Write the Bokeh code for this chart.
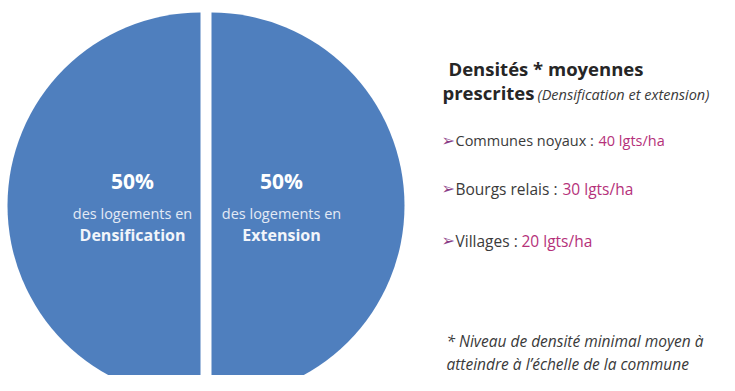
import numpy as np
from bokeh.plotting import figure
from bokeh.models import Range1d, ColumnDataSource
from bokeh.core.properties import value
from bokeh.embed import file_html
from bokeh.resources import INLINE

# ---- data ----
categories = ["Densification", "Extension"]
shares = [50, 50]
share_caption = "des logements en"
title_line1 = "Densités * moyennes"
title_line2 = "prescrites"
title_note = "(Densification et extension)"
density_types = ["Communes noyaux", "Bourgs relais", "Villages"]
density_values = [40, 30, 20]
density_unit = "lgts/ha"
footnote = ["* Niveau de densité minimal moyen à", "atteindre à l’échelle de la commune"]

W, H = 719, 375
FONT = "Open Sans"
BLUE = "#4F7FBE"
DARK = "#262626"
GREY = "#3a3a3a"
MAG = "#b5317a"

def px(x):
    return x

def py(y):
    return H - y

p = figure(width=W, height=H, output_backend="svg", toolbar_location=None,
           x_range=Range1d(0, W), y_range=Range1d(0, H), min_border=0)
p.axis.visible = False
p.grid.visible = False
p.outline_line_color = None
p.background_fill_color = "white"
p.border_fill_color = "white"

# pie wedges (angles from shares; left half = first category)
frac = np.array(shares, dtype=float) / sum(shares)
ends = np.pi / 2 + np.cumsum(frac) * 2 * np.pi
starts = ends - frac * 2 * np.pi
cx = [px(200), px(211)]  # exploded slices
src = ColumnDataSource(dict(x=cx, y=[py(205)] * 2, start=starts, end=ends))
p.wedge(x="x", y="y", radius=193, radius_units="screen", start_angle="start",
        end_angle="end", fill_color=BLUE, line_color=None, source=src)

# labels inside slices
lab_x = [px(132), px(281)]
p.text(x=lab_x, y=[py(180)] * 2, text=[f"{s}%" for s in shares], text_align="center",
       text_baseline="middle", text_color="white", text_font=value(FONT),
       text_font_size="21px", text_font_style="bold")
p.text(x=lab_x, y=[py(213)] * 2, text=[share_caption] * 2, text_align="center",
       text_baseline="middle", text_color="#e3eaf5", text_font=value(FONT),
       text_font_size="14.5px")
p.text(x=lab_x, y=[py(234)] * 2, text=categories, text_align="center",
       text_baseline="middle", text_color="#f2f5fa", text_font=value(FONT),
       text_font_size="16px", text_font_style="bold")

# right-hand legend text
p.text(x=[px(448)], y=[py(68)], text=[title_line1], text_align="left",
       text_baseline="middle", text_color=DARK, text_font=value(FONT),
       text_font_size="18.5px", text_font_style="bold")
p.text(x=[px(442)], y=[py(92)], text=[title_line2], text_align="left",
       text_baseline="middle", text_color=DARK, text_font=value(FONT),
       text_font_size="18.5px", text_font_style="bold")
p.text(x=[px(537)], y=[py(94)], text=[title_note], text_align="left",
       text_baseline="middle", text_color=GREY, text_font=value(FONT),
       text_font_size="14.5px", text_font_style="italic")

row_y = [140, 188, 240]
row_size = ["14.5px", "15.5px", "15.5px"]
val_x = [598, 562, 521]
for name, v, ry, fs, vx in zip(density_types, density_values, row_y, row_size, val_x):
    p.text(x=[px(441)], y=[py(ry)], text=["➢"], text_align="left",
           text_baseline="middle", text_color="#8a3c86", text_font=value("DejaVu Sans"),
           text_font_size="16px")
    p.text(x=[px(455)], y=[py(ry)], text=[f"{name} :"], text_align="left",
           text_baseline="middle", text_color=GREY, text_font=value(FONT),
           text_font_size=fs)
    p.text(x=[px(vx)], y=[py(ry)], text=[f"{v} {density_unit}"], text_align="left",
           text_baseline="middle", text_color=MAG, text_font=value(FONT),
           text_font_size=fs)

p.text(x=[px(446), px(446)], y=[py(340), py(363)], text=footnote, text_align="left",
       text_baseline="middle", text_color=GREY, text_font=value(FONT),
       text_font_size="15.5px", text_font_style="italic")

open("out.html", "w").write(file_html(p, INLINE))
